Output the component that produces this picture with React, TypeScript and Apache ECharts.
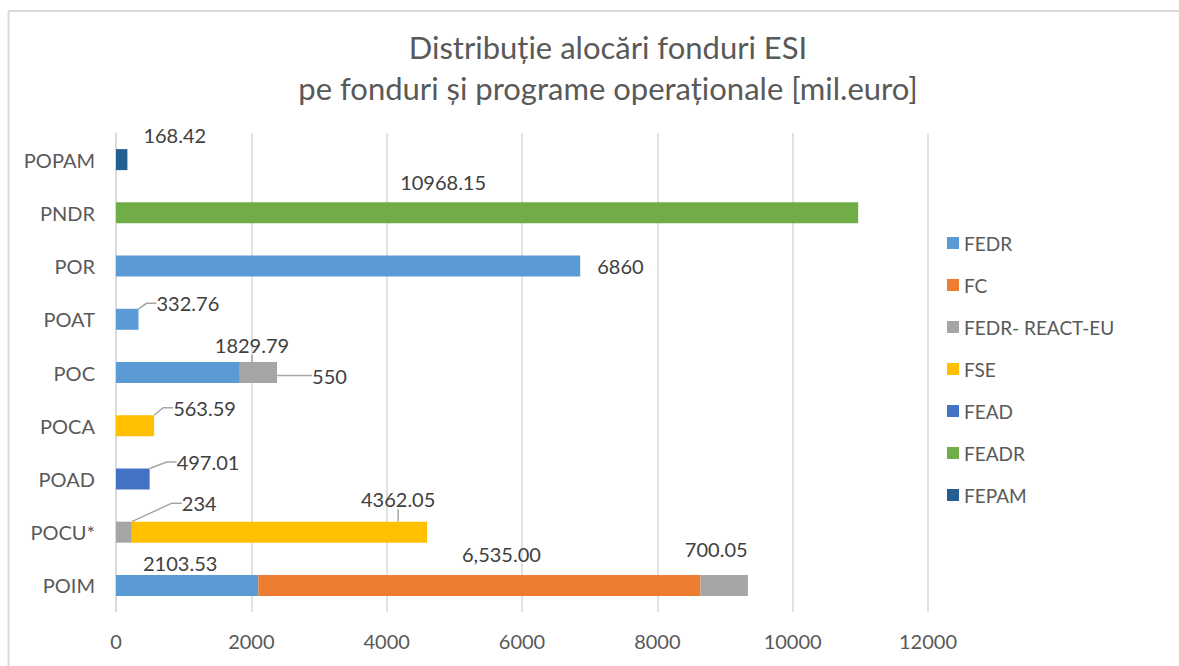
import React, { useEffect, useRef } from "react";
import * as echarts from "echarts";

// Categories, bottom to top (ECharts draws the first category at the bottom)
const categories = ["POIM", "POCU*", "POAD", "POCA", "POC", "POAT", "POR", "PNDR", "POPAM"];

const fundNames = ["FEDR", "FC", "FEDR- REACT-EU", "FSE", "FEAD", "FEADR", "FEPAM"];

const fedr = [2103.53, null, null, null, 1829.79, 332.76, 6860, null, null];
const fc = [6535.0, null, null, null, null, null, null, null, null];
const fedrReact = [700.05, 234, null, null, 550, null, null, null, null];
const fse = [null, 4362.05, null, 563.59, null, null, null, null, null];
const fead = [null, null, 497.01, null, null, null, null, null, null];
const feadr = [null, null, null, null, null, null, null, 10968.15, null];
const fepam = [null, null, null, null, null, null, null, null, 168.42];

const seriesValues = [fedr, fc, fedrReact, fse, fead, feadr, fepam];

const xTicks = { min: 0, max: 12000, interval: 2000 };

const colors = ["#5B9BD5", "#ED7D31", "#A5A5A5", "#FFC000", "#4472C4", "#70AD47", "#255E91"];

// label placement (style): anchor relative to the bar, offsets, leader line
type Place = { anchor: "end" | "mid"; dx: number; dy: number; align: string; line: boolean };
const labelPlace: Record<string, Place> = {
  "FEPAM|POPAM": { anchor: "end", dx: 16, dy: -25, align: "left", line: false },
  "FEADR|PNDR": { anchor: "mid", dx: -44, dy: -31, align: "center", line: false },
  "FEDR|POR": { anchor: "end", dx: 17, dy: 0, align: "left", line: false },
  "FEDR|POAT": { anchor: "end", dx: 18, dy: -16, align: "left", line: true },
  "FEDR|POC": { anchor: "end", dx: -25, dy: -28, align: "left", line: true },
  "FEDR- REACT-EU|POC": { anchor: "end", dx: 35, dy: 3, align: "left", line: true },
  "FSE|POCA": { anchor: "end", dx: 19, dy: -18, align: "left", line: true },
  "FEAD|POAD": { anchor: "end", dx: 27, dy: -17, align: "left", line: true },
  "FEDR- REACT-EU|POCU*": { anchor: "end", dx: 50, dy: -29, align: "left", line: true },
  "FSE|POCU*": { anchor: "end", dx: -66, dy: -33, align: "left", line: true },
  "FEDR|POIM": { anchor: "mid", dx: -7, dy: -22, align: "center", line: false },
  "FC|POIM": { anchor: "mid", dx: 22, dy: -31, align: "center", line: false },
  "FEDR- REACT-EU|POIM": { anchor: "mid", dx: -8, dy: -36, align: "center", line: false },
};

const FONT = "Lato, 'Open Sans', sans-serif";

export default function App() {
  const ref = useRef<HTMLDivElement>(null);

  useEffect(() => {
    if (!ref.current) return;
    const chart = echarts.init(ref.current, undefined, { renderer: "svg" });

    const series = fundNames.map((name, si) => ({
      name,
      type: "bar",
      stack: "total",
      barWidth: 21,
      itemStyle: { color: colors[si] },
      label: {
        show: true,
        color: "#404040",
        fontSize: 20,
        fontFamily: FONT,
        formatter: (p: any) => {
          const v = p.value;
          if (name === "FC")
            return Number(v).toLocaleString("en-US", { minimumFractionDigits: 2, maximumFractionDigits: 2 });
          return String(v);
        },
      },
      labelLine: {
        show: false,
        length2: 10,
        lineStyle: { color: "#A6A6A6", width: 1.5 },
      },
      labelLayout: (params: any) => {
        const cat = categories[params.dataIndex];
        const pl = labelPlace[name + "|" + cat];
        const r = params.rect;
        if (!pl) return {};
        const ax = pl.anchor === "end" ? r.x + r.width : r.x + r.width / 2;
        const ay = r.y + r.height / 2;
        return { x: ax + pl.dx, y: ay + pl.dy, align: pl.align, verticalAlign: "middle" };
      },
      data: seriesValues[si].map((v, di) => {
        if (v == null) return null;
        const pl = labelPlace[name + "|" + categories[di]];
        return { value: v, labelLine: { show: pl ? pl.line : false } };
      }),
    }));

    chart.setOption({
      animation: false,
      backgroundColor: "#ffffff",
      title: {
        text: "Distribuție alocări fonduri ESI\npe fonduri și programe operaționale [mil.euro]",
        left: 603,
        top: 21,
        textAlign: "center",
        textStyle: {
          fontFamily: FONT,
          fontSize: 31,
          fontWeight: 400,
          color: "#595959",
          lineHeight: 41,
        },
      },
      legend: {
        orient: "vertical",
        left: 942,
        top: 228,
        icon: "rect",
        itemWidth: 12,
        itemHeight: 12,
        itemGap: 22,
        data: fundNames,
        textStyle: { fontFamily: FONT, fontSize: 19, color: "#595959", lineHeight: 20 },
      },
      grid: { left: 116, right: 251, top: 133, bottom: 54, containLabel: false },
      xAxis: {
        type: "value",
        min: xTicks.min,
        max: xTicks.max,
        interval: xTicks.interval,
        axisLine: { show: false },
        axisTick: { show: false },
        splitLine: { show: true, lineStyle: { color: "#D9D9D9", width: 1.5 } },
        axisLabel: {
          color: "#595959",
          fontSize: 20,
          fontFamily: FONT,
          margin: 19,
          formatter: (v: number) => String(v),
        },
      },
      yAxis: {
        type: "category",
        data: categories,
        axisLine: { show: true, lineStyle: { color: "#D9D9D9", width: 1.5 } },
        axisTick: { show: false },
        axisLabel: { color: "#595959", fontSize: 20, fontFamily: FONT, margin: 21 },
      },
      graphic: [
        {
          type: "line",
          silent: true,
          shape: { x1: 8.5, y1: 11, x2: 1179, y2: 11 },
          style: { stroke: "#D9D9D9", lineWidth: 2 },
        },
        {
          type: "line",
          silent: true,
          shape: { x1: 8.5, y1: 11, x2: 8.5, y2: 666 },
          style: { stroke: "#D9D9D9", lineWidth: 2 },
        },
      ],
      series,
    });

    return () => chart.dispose();
  }, []);

  return (
    <div
      ref={ref}
      style={{ position: "fixed", left: 0, top: 0, width: 1179, height: 666, background: "#fff" }}
    />
  );
}
